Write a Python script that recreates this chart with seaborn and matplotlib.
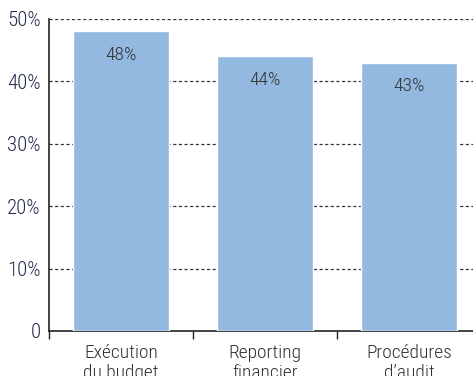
import matplotlib
matplotlib.use("Agg")
import matplotlib.pyplot as plt
import seaborn as sns
import pandas as pd

categories = ["Exécution\ndu budget", "Reporting\nfinancier", "Procédures\nd’audit"]
values = [48, 44, 43]
y_ticks = [0, 10, 20, 30, 40, 50]
y_tick_labels = ["0", "10%", "20%", "30%", "40%", "50%"]

sns.set_theme(style="white")
plt.rcParams["font.family"] = ["Roboto Condensed", "DejaVu Sans"]
plt.rcParams["font.weight"] = "light"

bar_color = "#94b9e1"
navy = "#222b4c"
text_grey = "#333333"

df = pd.DataFrame({"category": categories, "value": values})

fig = plt.figure(figsize=(4.73, 3.76), dpi=100)
ax = fig.add_axes([49 / 473, 45 / 376, 432 / 473, 312 / 376])

sns.barplot(data=df, x="category", y="value", color=bar_color, width=0.667,
            saturation=1, ax=ax, zorder=3)

ax.set_xlim(-0.5, 2.5)
ax.set_ylim(0, 50)
ax.set_yticks(y_ticks)
ax.set_yticklabels(y_tick_labels, fontsize=15, color=navy)
ax.tick_params(axis="y", length=0, pad=6)
ax.set_xlabel("")
ax.set_ylabel("")

# horizontal dotted guides
for y in y_ticks[1:]:
    ax.axhline(y, color="#333333", linestyle=(0, (2.5, 2)), linewidth=0.9, zorder=1)

# category labels with separator ticks between categories
ax.set_xticks(range(len(categories)))
ax.set_xticklabels(categories, fontsize=14, color=text_grey, linespacing=1.15)
ax.tick_params(axis="x", which="major", length=0, pad=9)
ax.set_xticks([-0.5, 0.5, 1.5, 2.5], minor=True)
ax.tick_params(axis="x", which="minor", length=6, width=1, color="#222222",
               direction="out", bottom=True)

for side in ["top", "right"]:
    ax.spines[side].set_visible(False)
for side in ["left", "bottom"]:
    ax.spines[side].set_color("#222222")
    ax.spines[side].set_linewidth(1.2)

for i, v in enumerate(values):
    ax.annotate(f"{v}%", xy=(i, v), xytext=(0, -17), textcoords="offset points",
                ha="center", va="center", fontsize=14, color=text_grey, zorder=4)

fig.savefig("out.png", dpi=100)
